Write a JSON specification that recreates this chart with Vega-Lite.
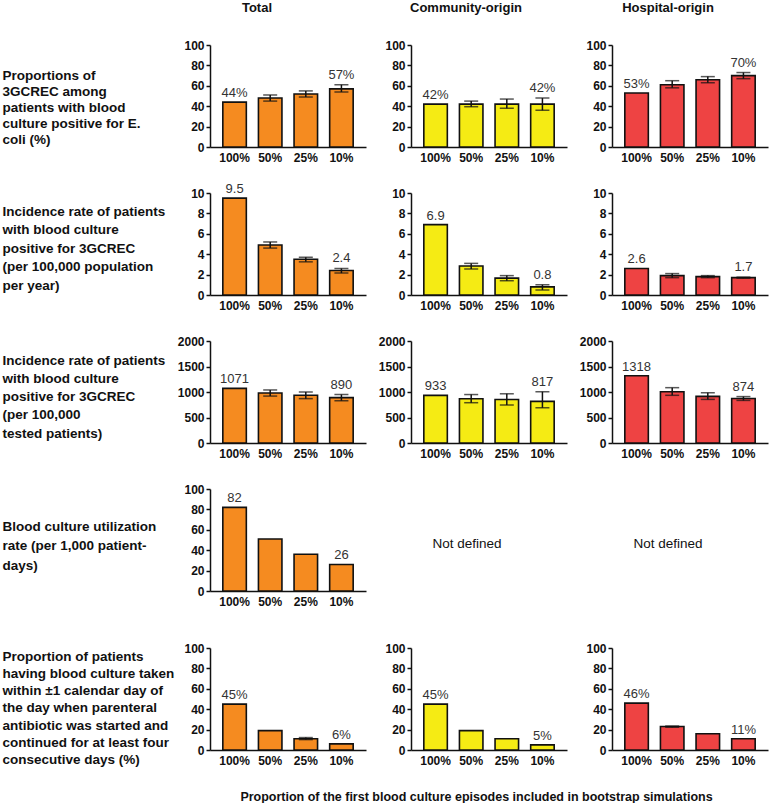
{
  "$schema": "https://vega.github.io/schema/vega-lite/v6.json",
  "padding": {"left": 2, "top": 2, "right": 2, "bottom": 0},
  "config": {
    "font": "Liberation Sans",
    "view": {"stroke": null},
    "bar": {"stroke": "#111111", "strokeWidth": 1.6},
    "title": {"fontSize": 13, "fontWeight": "bold", "color": "#111111", "anchor": "middle", "frame": "group", "offset": 24},
    "axis": {"domainColor": "#111111", "domainWidth": 1.5, "tickColor": "#111111", "tickWidth": 1.5, "labelColor": "#111111", "labelFontWeight": "bold", "labelFontSize": 12, "grid": false, "titleColor": "#111111"},
    "axisX": {"ticks": false, "labelPadding": 5, "labelAngle": 0, "titleFontSize": 12.5, "titleFontWeight": "bold"},
    "axisY": {"tickSize": 4, "labelPadding": 2, "format": "d", "labelOverlap": false, "titleAngle": 0, "titleAlign": "left", "titleBaseline": "middle", "titleX": -208, "titleFontSize": 13.5, "titleFontWeight": "bold"}
  },
  "data": {"values": [
    {"m":1,"o":"T","p":"100%","v":44,"lab":"44%"},
    {"m":1,"o":"T","p":"50%","v":48,"lo":45,"hi":51},
    {"m":1,"o":"T","p":"25%","v":52,"lo":49,"hi":55},
    {"m":1,"o":"T","p":"10%","v":57,"lo":54,"hi":61,"lab":"57%"},
    {"m":1,"o":"C","p":"100%","v":42,"lab":"42%"},
    {"m":1,"o":"C","p":"50%","v":42,"lo":39.5,"hi":45},
    {"m":1,"o":"C","p":"25%","v":42,"lo":38,"hi":47},
    {"m":1,"o":"C","p":"10%","v":42,"lo":36,"hi":48,"lab":"42%"},
    {"m":1,"o":"H","p":"100%","v":53,"lab":"53%"},
    {"m":1,"o":"H","p":"50%","v":61,"lo":58,"hi":65},
    {"m":1,"o":"H","p":"25%","v":66,"lo":63,"hi":69},
    {"m":1,"o":"H","p":"10%","v":70,"lo":67,"hi":73,"lab":"70%"},
    {"m":2,"o":"T","p":"100%","v":9.5,"lab":"9.5"},
    {"m":2,"o":"T","p":"50%","v":4.9,"lo":4.6,"hi":5.2},
    {"m":2,"o":"T","p":"25%","v":3.5,"lo":3.25,"hi":3.7},
    {"m":2,"o":"T","p":"10%","v":2.4,"lo":2.15,"hi":2.6,"lab":"2.4"},
    {"m":2,"o":"C","p":"100%","v":6.9,"lab":"6.9"},
    {"m":2,"o":"C","p":"50%","v":2.85,"lo":2.55,"hi":3.1},
    {"m":2,"o":"C","p":"25%","v":1.65,"lo":1.4,"hi":1.9},
    {"m":2,"o":"C","p":"10%","v":0.8,"lo":0.5,"hi":1.0,"lab":"0.8"},
    {"m":2,"o":"H","p":"100%","v":2.6,"lab":"2.6"},
    {"m":2,"o":"H","p":"50%","v":1.9,"lo":1.7,"hi":2.1},
    {"m":2,"o":"H","p":"25%","v":1.8,"lo":1.7,"hi":1.9},
    {"m":2,"o":"H","p":"10%","v":1.7,"lo":1.65,"hi":1.75,"lab":"1.7"},
    {"m":3,"o":"T","p":"100%","v":1071,"lab":"1071"},
    {"m":3,"o":"T","p":"50%","v":980,"lo":920,"hi":1040},
    {"m":3,"o":"T","p":"25%","v":935,"lo":870,"hi":1000},
    {"m":3,"o":"T","p":"10%","v":890,"lo":830,"hi":950,"lab":"890"},
    {"m":3,"o":"C","p":"100%","v":933,"lab":"933"},
    {"m":3,"o":"C","p":"50%","v":868,"lo":790,"hi":950},
    {"m":3,"o":"C","p":"25%","v":852,"lo":745,"hi":965},
    {"m":3,"o":"C","p":"10%","v":817,"lo":690,"hi":1005,"lab":"817"},
    {"m":3,"o":"H","p":"100%","v":1318,"lab":"1318"},
    {"m":3,"o":"H","p":"50%","v":1005,"lo":935,"hi":1085},
    {"m":3,"o":"H","p":"25%","v":915,"lo":855,"hi":985},
    {"m":3,"o":"H","p":"10%","v":874,"lo":835,"hi":910,"lab":"874"},
    {"m":4,"o":"T","p":"100%","v":82,"lab":"82"},
    {"m":4,"o":"T","p":"50%","v":51},
    {"m":4,"o":"T","p":"25%","v":36},
    {"m":4,"o":"T","p":"10%","v":26,"lab":"26"},
    {"m":5,"o":"T","p":"100%","v":45,"lab":"45%"},
    {"m":5,"o":"T","p":"50%","v":19},
    {"m":5,"o":"T","p":"25%","v":11,"lo":10.2,"hi":12.2},
    {"m":5,"o":"T","p":"10%","v":6,"lab":"6%"},
    {"m":5,"o":"C","p":"100%","v":45,"lab":"45%"},
    {"m":5,"o":"C","p":"50%","v":19},
    {"m":5,"o":"C","p":"25%","v":11},
    {"m":5,"o":"C","p":"10%","v":5,"lab":"5%"},
    {"m":5,"o":"H","p":"100%","v":46,"lab":"46%"},
    {"m":5,"o":"H","p":"50%","v":23,"lo":22.3,"hi":23.5},
    {"m":5,"o":"H","p":"25%","v":16},
    {"m":5,"o":"H","p":"10%","v":11,"lab":"11%"}
  ]},
  "columns": 3,
  "bounds": "flush",
  "spacing": {"row": 46, "column": 45},
  "concat": [
    {
      "title": {"text": "Total", "dx": -31},
      "width": 156, "height": 102,
      "transform": [{"filter": "datum.m == 1 && datum.o == 'T'"}],
      "encoding": {"x": {"field": "p", "type": "nominal", "sort": ["100%","50%","25%","10%"], "scale": {"paddingInner": 0.34, "paddingOuter": 0.36}, "axis": {"title": null}}},
      "layer": [
        {"mark": {"type": "bar", "fill": "#F58B20"}, "encoding": {"y": {"field": "v", "type": "quantitative", "scale": {"domain": [0, 100]}, "axis": {"values": [0,20,40,60,80,100], "labelOverlap": false, "titleY": 30, "titleLineHeight": 16, "title": ["Proportions of","3GCREC among","patients with  blood","culture positive for E.","coli (%)"]}}}},
        {"transform": [{"filter": "datum.hi != null"}], "mark": {"type": "errorbar", "ticks": true, "size": 14, "thickness": 1.5, "color": "#111111"}, "encoding": {"y": {"field": "lo", "type": "quantitative", "axis": {"values": [0,20,40,60,80,100], "labelOverlap": false, "titleY": 30, "titleLineHeight": 16, "title": ["Proportions of","3GCREC among","patients with  blood","culture positive for E.","coli (%)"]}}, "y2": {"field": "hi"}}},
        {"transform": [{"filter": "datum.lab != null && datum.hi == null"}], "mark": {"type": "text", "fontSize": 13, "color": "#333333", "baseline": "alphabetic", "dy": -5}, "encoding": {"y": {"field": "v", "type": "quantitative", "axis": {"values": [0,20,40,60,80,100], "labelOverlap": false, "titleY": 30, "titleLineHeight": 16, "title": ["Proportions of","3GCREC among","patients with  blood","culture positive for E.","coli (%)"]}}, "text": {"field": "lab"}}},
        {"transform": [{"filter": "datum.lab != null && datum.hi != null"}], "mark": {"type": "text", "fontSize": 13, "color": "#333333", "baseline": "alphabetic", "dy": -6}, "encoding": {"y": {"field": "hi", "type": "quantitative", "axis": {"values": [0,20,40,60,80,100], "labelOverlap": false, "titleY": 30, "titleLineHeight": 16, "title": ["Proportions of","3GCREC among","patients with  blood","culture positive for E.","coli (%)"]}}, "text": {"field": "lab"}}}
      ]
    },
    {
      "title": {"text": "Community-origin", "dx": -23},
      "width": 156, "height": 102,
      "transform": [{"filter": "datum.m == 1 && datum.o == 'C'"}],
      "encoding": {"x": {"field": "p", "type": "nominal", "sort": ["100%","50%","25%","10%"], "scale": {"paddingInner": 0.34, "paddingOuter": 0.36}, "axis": {"title": null}}},
      "layer": [
        {"mark": {"type": "bar", "fill": "#F5EB14"}, "encoding": {"y": {"field": "v", "type": "quantitative", "scale": {"domain": [0, 100]}, "axis": {"values": [0,20,40,60,80,100], "labelOverlap": false, "title": null}}}},
        {"transform": [{"filter": "datum.hi != null"}], "mark": {"type": "errorbar", "ticks": true, "size": 14, "thickness": 1.5, "color": "#111111"}, "encoding": {"y": {"field": "lo", "type": "quantitative", "axis": {"values": [0,20,40,60,80,100], "labelOverlap": false, "title": null}}, "y2": {"field": "hi"}}},
        {"transform": [{"filter": "datum.lab != null && datum.hi == null"}], "mark": {"type": "text", "fontSize": 13, "color": "#333333", "baseline": "alphabetic", "dy": -5}, "encoding": {"y": {"field": "v", "type": "quantitative", "axis": {"values": [0,20,40,60,80,100], "labelOverlap": false, "title": null}}, "text": {"field": "lab"}}},
        {"transform": [{"filter": "datum.lab != null && datum.hi != null"}], "mark": {"type": "text", "fontSize": 13, "color": "#333333", "baseline": "alphabetic", "dy": -6}, "encoding": {"y": {"field": "hi", "type": "quantitative", "axis": {"values": [0,20,40,60,80,100], "labelOverlap": false, "title": null}}, "text": {"field": "lab"}}}
      ]
    },
    {
      "title": {"text": "Hospital-origin", "dx": -22},
      "width": 156, "height": 102,
      "transform": [{"filter": "datum.m == 1 && datum.o == 'H'"}],
      "encoding": {"x": {"field": "p", "type": "nominal", "sort": ["100%","50%","25%","10%"], "scale": {"paddingInner": 0.34, "paddingOuter": 0.36}, "axis": {"title": null}}},
      "layer": [
        {"mark": {"type": "bar", "fill": "#EE4343"}, "encoding": {"y": {"field": "v", "type": "quantitative", "scale": {"domain": [0, 100]}, "axis": {"values": [0,20,40,60,80,100], "labelOverlap": false, "title": null}}}},
        {"transform": [{"filter": "datum.hi != null"}], "mark": {"type": "errorbar", "ticks": true, "size": 14, "thickness": 1.5, "color": "#111111"}, "encoding": {"y": {"field": "lo", "type": "quantitative", "axis": {"values": [0,20,40,60,80,100], "labelOverlap": false, "title": null}}, "y2": {"field": "hi"}}},
        {"transform": [{"filter": "datum.lab != null && datum.hi == null"}], "mark": {"type": "text", "fontSize": 13, "color": "#333333", "baseline": "alphabetic", "dy": -5}, "encoding": {"y": {"field": "v", "type": "quantitative", "axis": {"values": [0,20,40,60,80,100], "labelOverlap": false, "title": null}}, "text": {"field": "lab"}}},
        {"transform": [{"filter": "datum.lab != null && datum.hi != null"}], "mark": {"type": "text", "fontSize": 13, "color": "#333333", "baseline": "alphabetic", "dy": -6}, "encoding": {"y": {"field": "hi", "type": "quantitative", "axis": {"values": [0,20,40,60,80,100], "labelOverlap": false, "title": null}}, "text": {"field": "lab"}}}
      ]
    },
    {
      "width": 156, "height": 102,
      "transform": [{"filter": "datum.m == 2 && datum.o == 'T'"}],
      "encoding": {"x": {"field": "p", "type": "nominal", "sort": ["100%","50%","25%","10%"], "scale": {"paddingInner": 0.34, "paddingOuter": 0.36}, "axis": {"title": null}}},
      "layer": [
        {"mark": {"type": "bar", "fill": "#F58B20"}, "encoding": {"y": {"field": "v", "type": "quantitative", "scale": {"domain": [0, 10]}, "axis": {"values": [0,2,4,6,8,10], "labelOverlap": false, "titleY": 18, "titleLineHeight": 18.5, "title": ["Incidence rate of patients","with blood culture","positive for 3GCREC","(per 100,000 population","per year)"]}}}},
        {"transform": [{"filter": "datum.hi != null"}], "mark": {"type": "errorbar", "ticks": true, "size": 14, "thickness": 1.5, "color": "#111111"}, "encoding": {"y": {"field": "lo", "type": "quantitative", "axis": {"values": [0,2,4,6,8,10], "labelOverlap": false, "titleY": 18, "titleLineHeight": 18.5, "title": ["Incidence rate of patients","with blood culture","positive for 3GCREC","(per 100,000 population","per year)"]}}, "y2": {"field": "hi"}}},
        {"transform": [{"filter": "datum.lab != null && datum.hi == null"}], "mark": {"type": "text", "fontSize": 13, "color": "#333333", "baseline": "alphabetic", "dy": -5}, "encoding": {"y": {"field": "v", "type": "quantitative", "axis": {"values": [0,2,4,6,8,10], "labelOverlap": false, "titleY": 18, "titleLineHeight": 18.5, "title": ["Incidence rate of patients","with blood culture","positive for 3GCREC","(per 100,000 population","per year)"]}}, "text": {"field": "lab"}}},
        {"transform": [{"filter": "datum.lab != null && datum.hi != null"}], "mark": {"type": "text", "fontSize": 13, "color": "#333333", "baseline": "alphabetic", "dy": -6}, "encoding": {"y": {"field": "hi", "type": "quantitative", "axis": {"values": [0,2,4,6,8,10], "labelOverlap": false, "titleY": 18, "titleLineHeight": 18.5, "title": ["Incidence rate of patients","with blood culture","positive for 3GCREC","(per 100,000 population","per year)"]}}, "text": {"field": "lab"}}}
      ]
    },
    {
      "width": 156, "height": 102,
      "transform": [{"filter": "datum.m == 2 && datum.o == 'C'"}],
      "encoding": {"x": {"field": "p", "type": "nominal", "sort": ["100%","50%","25%","10%"], "scale": {"paddingInner": 0.34, "paddingOuter": 0.36}, "axis": {"title": null}}},
      "layer": [
        {"mark": {"type": "bar", "fill": "#F5EB14"}, "encoding": {"y": {"field": "v", "type": "quantitative", "scale": {"domain": [0, 10]}, "axis": {"values": [0,2,4,6,8,10], "labelOverlap": false, "title": null}}}},
        {"transform": [{"filter": "datum.hi != null"}], "mark": {"type": "errorbar", "ticks": true, "size": 14, "thickness": 1.5, "color": "#111111"}, "encoding": {"y": {"field": "lo", "type": "quantitative", "axis": {"values": [0,2,4,6,8,10], "labelOverlap": false, "title": null}}, "y2": {"field": "hi"}}},
        {"transform": [{"filter": "datum.lab != null && datum.hi == null"}], "mark": {"type": "text", "fontSize": 13, "color": "#333333", "baseline": "alphabetic", "dy": -5}, "encoding": {"y": {"field": "v", "type": "quantitative", "axis": {"values": [0,2,4,6,8,10], "labelOverlap": false, "title": null}}, "text": {"field": "lab"}}},
        {"transform": [{"filter": "datum.lab != null && datum.hi != null"}], "mark": {"type": "text", "fontSize": 13, "color": "#333333", "baseline": "alphabetic", "dy": -6}, "encoding": {"y": {"field": "hi", "type": "quantitative", "axis": {"values": [0,2,4,6,8,10], "labelOverlap": false, "title": null}}, "text": {"field": "lab"}}}
      ]
    },
    {
      "width": 156, "height": 102,
      "transform": [{"filter": "datum.m == 2 && datum.o == 'H'"}],
      "encoding": {"x": {"field": "p", "type": "nominal", "sort": ["100%","50%","25%","10%"], "scale": {"paddingInner": 0.34, "paddingOuter": 0.36}, "axis": {"title": null}}},
      "layer": [
        {"mark": {"type": "bar", "fill": "#EE4343"}, "encoding": {"y": {"field": "v", "type": "quantitative", "scale": {"domain": [0, 10]}, "axis": {"values": [0,2,4,6,8,10], "labelOverlap": false, "title": null}}}},
        {"transform": [{"filter": "datum.hi != null"}], "mark": {"type": "errorbar", "ticks": true, "size": 14, "thickness": 1.5, "color": "#111111"}, "encoding": {"y": {"field": "lo", "type": "quantitative", "axis": {"values": [0,2,4,6,8,10], "labelOverlap": false, "title": null}}, "y2": {"field": "hi"}}},
        {"transform": [{"filter": "datum.lab != null && datum.hi == null"}], "mark": {"type": "text", "fontSize": 13, "color": "#333333", "baseline": "alphabetic", "dy": -5}, "encoding": {"y": {"field": "v", "type": "quantitative", "axis": {"values": [0,2,4,6,8,10], "labelOverlap": false, "title": null}}, "text": {"field": "lab"}}},
        {"transform": [{"filter": "datum.lab != null && datum.hi != null"}], "mark": {"type": "text", "fontSize": 13, "color": "#333333", "baseline": "alphabetic", "dy": -6}, "encoding": {"y": {"field": "hi", "type": "quantitative", "axis": {"values": [0,2,4,6,8,10], "labelOverlap": false, "title": null}}, "text": {"field": "lab"}}}
      ]
    },
    {
      "width": 156, "height": 102,
      "transform": [{"filter": "datum.m == 3 && datum.o == 'T'"}],
      "encoding": {"x": {"field": "p", "type": "nominal", "sort": ["100%","50%","25%","10%"], "scale": {"paddingInner": 0.34, "paddingOuter": 0.36}, "axis": {"title": null}}},
      "layer": [
        {"mark": {"type": "bar", "fill": "#F58B20"}, "encoding": {"y": {"field": "v", "type": "quantitative", "scale": {"domain": [0, 2000]}, "axis": {"values": [0,500,1000,1500,2000], "labelOverlap": false, "titleY": 19, "titleLineHeight": 18.3, "title": ["Incidence rate of patients","with blood culture","positive for 3GCREC","(per 100,000","tested patients)"]}}}},
        {"transform": [{"filter": "datum.hi != null"}], "mark": {"type": "errorbar", "ticks": true, "size": 14, "thickness": 1.5, "color": "#111111"}, "encoding": {"y": {"field": "lo", "type": "quantitative", "axis": {"values": [0,500,1000,1500,2000], "labelOverlap": false, "titleY": 19, "titleLineHeight": 18.3, "title": ["Incidence rate of patients","with blood culture","positive for 3GCREC","(per 100,000","tested patients)"]}}, "y2": {"field": "hi"}}},
        {"transform": [{"filter": "datum.lab != null && datum.hi == null"}], "mark": {"type": "text", "fontSize": 13, "color": "#333333", "baseline": "alphabetic", "dy": -5}, "encoding": {"y": {"field": "v", "type": "quantitative", "axis": {"values": [0,500,1000,1500,2000], "labelOverlap": false, "titleY": 19, "titleLineHeight": 18.3, "title": ["Incidence rate of patients","with blood culture","positive for 3GCREC","(per 100,000","tested patients)"]}}, "text": {"field": "lab"}}},
        {"transform": [{"filter": "datum.lab != null && datum.hi != null"}], "mark": {"type": "text", "fontSize": 13, "color": "#333333", "baseline": "alphabetic", "dy": -6}, "encoding": {"y": {"field": "hi", "type": "quantitative", "axis": {"values": [0,500,1000,1500,2000], "labelOverlap": false, "titleY": 19, "titleLineHeight": 18.3, "title": ["Incidence rate of patients","with blood culture","positive for 3GCREC","(per 100,000","tested patients)"]}}, "text": {"field": "lab"}}}
      ]
    },
    {
      "width": 156, "height": 102,
      "transform": [{"filter": "datum.m == 3 && datum.o == 'C'"}],
      "encoding": {"x": {"field": "p", "type": "nominal", "sort": ["100%","50%","25%","10%"], "scale": {"paddingInner": 0.34, "paddingOuter": 0.36}, "axis": {"title": null}}},
      "layer": [
        {"mark": {"type": "bar", "fill": "#F5EB14"}, "encoding": {"y": {"field": "v", "type": "quantitative", "scale": {"domain": [0, 2000]}, "axis": {"values": [0,500,1000,1500,2000], "labelOverlap": false, "title": null}}}},
        {"transform": [{"filter": "datum.hi != null"}], "mark": {"type": "errorbar", "ticks": true, "size": 14, "thickness": 1.5, "color": "#111111"}, "encoding": {"y": {"field": "lo", "type": "quantitative", "axis": {"values": [0,500,1000,1500,2000], "labelOverlap": false, "title": null}}, "y2": {"field": "hi"}}},
        {"transform": [{"filter": "datum.lab != null && datum.hi == null"}], "mark": {"type": "text", "fontSize": 13, "color": "#333333", "baseline": "alphabetic", "dy": -5}, "encoding": {"y": {"field": "v", "type": "quantitative", "axis": {"values": [0,500,1000,1500,2000], "labelOverlap": false, "title": null}}, "text": {"field": "lab"}}},
        {"transform": [{"filter": "datum.lab != null && datum.hi != null"}], "mark": {"type": "text", "fontSize": 13, "color": "#333333", "baseline": "alphabetic", "dy": -6}, "encoding": {"y": {"field": "hi", "type": "quantitative", "axis": {"values": [0,500,1000,1500,2000], "labelOverlap": false, "title": null}}, "text": {"field": "lab"}}}
      ]
    },
    {
      "width": 156, "height": 102,
      "transform": [{"filter": "datum.m == 3 && datum.o == 'H'"}],
      "encoding": {"x": {"field": "p", "type": "nominal", "sort": ["100%","50%","25%","10%"], "scale": {"paddingInner": 0.34, "paddingOuter": 0.36}, "axis": {"title": null}}},
      "layer": [
        {"mark": {"type": "bar", "fill": "#EE4343"}, "encoding": {"y": {"field": "v", "type": "quantitative", "scale": {"domain": [0, 2000]}, "axis": {"values": [0,500,1000,1500,2000], "labelOverlap": false, "title": null}}}},
        {"transform": [{"filter": "datum.hi != null"}], "mark": {"type": "errorbar", "ticks": true, "size": 14, "thickness": 1.5, "color": "#111111"}, "encoding": {"y": {"field": "lo", "type": "quantitative", "axis": {"values": [0,500,1000,1500,2000], "labelOverlap": false, "title": null}}, "y2": {"field": "hi"}}},
        {"transform": [{"filter": "datum.lab != null && datum.hi == null"}], "mark": {"type": "text", "fontSize": 13, "color": "#333333", "baseline": "alphabetic", "dy": -5}, "encoding": {"y": {"field": "v", "type": "quantitative", "axis": {"values": [0,500,1000,1500,2000], "labelOverlap": false, "title": null}}, "text": {"field": "lab"}}},
        {"transform": [{"filter": "datum.lab != null && datum.hi != null"}], "mark": {"type": "text", "fontSize": 13, "color": "#333333", "baseline": "alphabetic", "dy": -6}, "encoding": {"y": {"field": "hi", "type": "quantitative", "axis": {"values": [0,500,1000,1500,2000], "labelOverlap": false, "title": null}}, "text": {"field": "lab"}}}
      ]
    },
    {
      "width": 156, "height": 102,
      "transform": [{"filter": "datum.m == 4 && datum.o == 'T'"}],
      "encoding": {"x": {"field": "p", "type": "nominal", "sort": ["100%","50%","25%","10%"], "scale": {"paddingInner": 0.34, "paddingOuter": 0.36}, "axis": {"title": null}}},
      "layer": [
        {"mark": {"type": "bar", "fill": "#F58B20"}, "encoding": {"y": {"field": "v", "type": "quantitative", "scale": {"domain": [0, 100]}, "axis": {"values": [0,20,40,60,80,100], "labelOverlap": false, "titleY": 37, "titleLineHeight": 19.5, "title": ["Blood culture utilization","rate (per 1,000 patient-","days)"]}}}},
        {"transform": [{"filter": "datum.lab != null"}], "mark": {"type": "text", "fontSize": 13, "color": "#333333", "baseline": "alphabetic", "dy": -5}, "encoding": {"y": {"field": "v", "type": "quantitative", "axis": {"values": [0,20,40,60,80,100], "labelOverlap": false, "titleY": 37, "titleLineHeight": 19.5, "title": ["Blood culture utilization","rate (per 1,000 patient-","days)"]}}, "text": {"field": "lab"}}}
      ]
    },
    {
      "width": 156, "height": 113,
      "data": {"values": [{"t": "Not defined"}]},
      "mark": {"type": "text", "fontSize": 13.5, "color": "#111111", "dx": -22, "dy": -2},
      "encoding": {"text": {"field": "t"}}
    },
    {
      "width": 156, "height": 113,
      "data": {"values": [{"t": "Not defined"}]},
      "mark": {"type": "text", "fontSize": 13.5, "color": "#111111", "dx": -22, "dy": -2},
      "encoding": {"text": {"field": "t"}}
    },
    {
      "width": 156, "height": 102,
      "transform": [{"filter": "datum.m == 5 && datum.o == 'T'"}],
      "encoding": {"x": {"field": "p", "type": "nominal", "sort": ["100%","50%","25%","10%"], "scale": {"paddingInner": 0.34, "paddingOuter": 0.36}, "axis": {"title": null}}},
      "layer": [
        {"mark": {"type": "bar", "fill": "#F58B20"}, "encoding": {"y": {"field": "v", "type": "quantitative", "scale": {"domain": [0, 100]}, "axis": {"values": [0,20,40,60,80,100], "labelOverlap": false, "titleY": 8, "titleLineHeight": 17.3, "title": ["Proportion of patients","having blood culture taken","within ±1 calendar day of","the day when parenteral","antibiotic was started and","continued for at least four","consecutive days (%)"]}}}},
        {"transform": [{"filter": "datum.hi != null"}], "mark": {"type": "errorbar", "ticks": true, "size": 14, "thickness": 1.5, "color": "#111111"}, "encoding": {"y": {"field": "lo", "type": "quantitative", "axis": {"values": [0,20,40,60,80,100], "labelOverlap": false, "titleY": 8, "titleLineHeight": 17.3, "title": ["Proportion of patients","having blood culture taken","within ±1 calendar day of","the day when parenteral","antibiotic was started and","continued for at least four","consecutive days (%)"]}}, "y2": {"field": "hi"}}},
        {"transform": [{"filter": "datum.lab != null && datum.hi == null"}], "mark": {"type": "text", "fontSize": 13, "color": "#333333", "baseline": "alphabetic", "dy": -5}, "encoding": {"y": {"field": "v", "type": "quantitative", "axis": {"values": [0,20,40,60,80,100], "labelOverlap": false, "titleY": 8, "titleLineHeight": 17.3, "title": ["Proportion of patients","having blood culture taken","within ±1 calendar day of","the day when parenteral","antibiotic was started and","continued for at least four","consecutive days (%)"]}}, "text": {"field": "lab"}}}
      ]
    },
    {
      "width": 156, "height": 102,
      "transform": [{"filter": "datum.m == 5 && datum.o == 'C'"}],
      "encoding": {"x": {"field": "p", "type": "nominal", "sort": ["100%","50%","25%","10%"], "scale": {"paddingInner": 0.34, "paddingOuter": 0.36}, "axis": {"title": "Proportion of the first blood culture episodes included in bootstrap simulations", "titlePadding": 24, "titleX": 65}}},
      "layer": [
        {"mark": {"type": "bar", "fill": "#F5EB14"}, "encoding": {"y": {"field": "v", "type": "quantitative", "scale": {"domain": [0, 100]}, "axis": {"values": [0,20,40,60,80,100], "labelOverlap": false, "title": null}}}},
        {"transform": [{"filter": "datum.lab != null"}], "mark": {"type": "text", "fontSize": 13, "color": "#333333", "baseline": "alphabetic", "dy": -5}, "encoding": {"y": {"field": "v", "type": "quantitative", "axis": {"values": [0,20,40,60,80,100], "labelOverlap": false, "title": null}}, "text": {"field": "lab"}}}
      ]
    },
    {
      "width": 156, "height": 102,
      "transform": [{"filter": "datum.m == 5 && datum.o == 'H'"}],
      "encoding": {"x": {"field": "p", "type": "nominal", "sort": ["100%","50%","25%","10%"], "scale": {"paddingInner": 0.34, "paddingOuter": 0.36}, "axis": {"title": null}}},
      "layer": [
        {"mark": {"type": "bar", "fill": "#EE4343"}, "encoding": {"y": {"field": "v", "type": "quantitative", "scale": {"domain": [0, 100]}, "axis": {"values": [0,20,40,60,80,100], "labelOverlap": false, "title": null}}}},
        {"transform": [{"filter": "datum.hi != null"}], "mark": {"type": "errorbar", "ticks": true, "size": 14, "thickness": 1.5, "color": "#111111"}, "encoding": {"y": {"field": "lo", "type": "quantitative", "axis": {"values": [0,20,40,60,80,100], "labelOverlap": false, "title": null}}, "y2": {"field": "hi"}}},
        {"transform": [{"filter": "datum.lab != null && datum.hi == null"}], "mark": {"type": "text", "fontSize": 13, "color": "#333333", "baseline": "alphabetic", "dy": -5}, "encoding": {"y": {"field": "v", "type": "quantitative", "axis": {"values": [0,20,40,60,80,100], "labelOverlap": false, "title": null}}, "text": {"field": "lab"}}}
      ]
    }
  ]
}
